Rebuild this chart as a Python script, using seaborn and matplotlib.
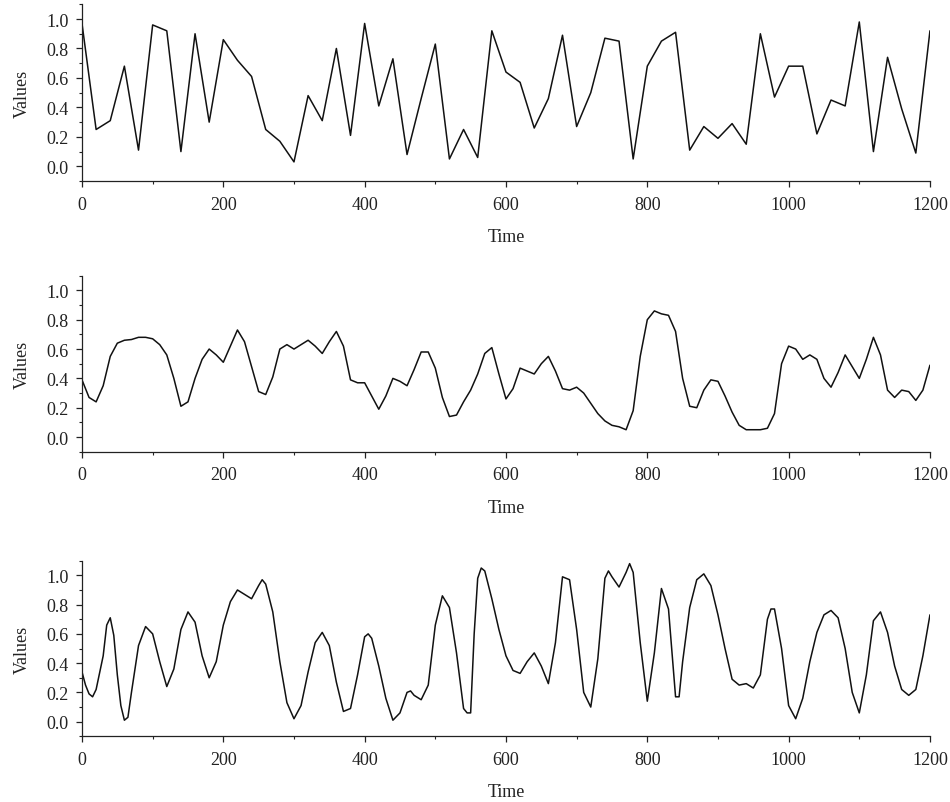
import numpy as np
import pandas as pd
import seaborn as sns
import matplotlib.pyplot as plt
from matplotlib.ticker import MultipleLocator

# panel 1: raw series, one sample every 20 time units
t_raw = list(range(0, 1201, 20))
v_raw = [0.97, 0.25, 0.31, 0.68, 0.11, 0.96, 0.92, 0.10, 0.90, 0.30,
         0.86, 0.72, 0.61, 0.25, 0.17, 0.03, 0.48, 0.31, 0.80, 0.21,
         0.97, 0.41, 0.73, 0.08, 0.46, 0.83, 0.05, 0.25, 0.06, 0.92,
         0.64, 0.57, 0.26, 0.46, 0.89, 0.27, 0.50, 0.87, 0.85, 0.05,
         0.68, 0.85, 0.91, 0.11, 0.27, 0.19, 0.29, 0.15, 0.90, 0.47,
         0.68, 0.68, 0.22, 0.45, 0.41, 0.98, 0.10, 0.74, 0.39, 0.09,
         0.92]

# panel 2: smoothed series, read every 10 time units
t_smooth = list(range(0, 1201, 10))
v_smooth = [0.39, 0.27, 0.24, 0.35, 0.55, 0.64, 0.66, 0.665, 0.68, 0.68,
            0.67, 0.63, 0.56, 0.40, 0.21, 0.24, 0.40, 0.53, 0.60, 0.56,
            0.51, 0.62, 0.73, 0.65, 0.48, 0.31, 0.29, 0.41, 0.60, 0.63,
            0.60, 0.63, 0.66, 0.62, 0.57, 0.65, 0.72, 0.62, 0.39, 0.37,
            0.37, 0.28, 0.19, 0.28, 0.40, 0.38, 0.35, 0.46, 0.58, 0.58,
            0.47, 0.27, 0.14, 0.15, 0.24, 0.32, 0.43, 0.57, 0.61, 0.43,
            0.26, 0.33, 0.47, 0.45, 0.43, 0.50, 0.55, 0.45, 0.33, 0.32,
            0.34, 0.30, 0.23, 0.16, 0.11, 0.08, 0.07, 0.05, 0.18, 0.55,
            0.80, 0.86, 0.84, 0.83, 0.72, 0.40, 0.21, 0.20, 0.32, 0.39,
            0.38, 0.28, 0.17, 0.08, 0.05, 0.05, 0.05, 0.06, 0.16, 0.50,
            0.62, 0.60, 0.53, 0.56, 0.53, 0.40, 0.34, 0.44, 0.56, 0.48,
            0.40, 0.53, 0.68, 0.56, 0.32, 0.27, 0.32, 0.31, 0.25, 0.32,
            0.49]

# panel 3: oscillating series
t_osc = [0, 5, 10, 15, 20, 30, 35, 40, 45, 50, 55, 60, 65, 70, 80, 90, 100,
         110, 120, 130, 140, 150, 160, 170, 180, 190, 200, 210, 220, 230,
         240, 250, 255, 260, 270, 280, 290, 300, 310, 320, 330, 340, 350,
         360, 370, 380, 390, 400, 405, 410, 420, 430, 440, 450, 460, 465,
         470, 480, 490, 500, 510, 520, 530, 540, 545, 550, 555, 560, 565,
         570, 580, 590, 600, 610, 620, 630, 640, 650, 660, 670, 680, 690,
         700, 710, 720, 730, 740, 745, 750, 760, 770, 775, 780, 790, 800,
         810, 820, 830, 840, 845, 850, 860, 870, 880, 890, 900, 910, 920,
         930, 940, 950, 960, 970, 975, 980, 990, 1000, 1010, 1020, 1030,
         1040, 1050, 1060, 1070, 1080, 1090, 1100, 1110, 1120, 1130, 1140,
         1150, 1160, 1170, 1180, 1190, 1200]
v_osc = [0.34, 0.25, 0.19, 0.17, 0.22, 0.45, 0.66, 0.71, 0.59, 0.32, 0.11,
         0.01, 0.03, 0.20, 0.52, 0.65, 0.60, 0.41, 0.24, 0.36, 0.63, 0.75,
         0.68, 0.45, 0.30, 0.41, 0.66, 0.82, 0.90, 0.87, 0.84, 0.93, 0.97,
         0.94, 0.75, 0.41, 0.13, 0.02, 0.11, 0.34, 0.54, 0.61, 0.52, 0.27,
         0.07, 0.09, 0.32, 0.58, 0.60, 0.57, 0.38, 0.16, 0.01, 0.06, 0.20,
         0.21, 0.18, 0.15, 0.25, 0.66, 0.86, 0.78, 0.47, 0.09, 0.06, 0.06,
         0.60, 0.98, 1.05, 1.03, 0.84, 0.63, 0.45, 0.35, 0.33, 0.41, 0.47,
         0.38, 0.26, 0.54, 0.99, 0.97, 0.63, 0.20, 0.10, 0.43, 0.98, 1.03,
         0.99, 0.92, 1.02, 1.08, 1.02, 0.54, 0.14, 0.47, 0.91, 0.77, 0.17,
         0.17, 0.41, 0.78, 0.97, 1.01, 0.93, 0.73, 0.50, 0.29, 0.25, 0.26,
         0.23, 0.32, 0.70, 0.77, 0.77, 0.50, 0.11, 0.02, 0.16, 0.41, 0.61,
         0.73, 0.76, 0.71, 0.50, 0.20, 0.06, 0.32, 0.69, 0.75, 0.61, 0.38,
         0.22, 0.18, 0.22, 0.45, 0.73]

y_ticks = [0.0, 0.2, 0.4, 0.6, 0.8, 1.0]
x_ticks = [0, 200, 400, 600, 800, 1000, 1200]

sns.set_style("ticks")
plt.rcParams['font.family'] = ['Liberation Serif', 'DejaVu Serif']
plt.rcParams['font.size'] = 13

fig = plt.figure(figsize=(9.5, 8.03), dpi=100)
boxes = [[0.0863, 0.7733, 0.8926, 0.2201],
         [0.0863, 0.4362, 0.8926, 0.2192],
         [0.0863, 0.0818, 0.8926, 0.2187]]
series = [(t_raw, v_raw), (t_smooth, v_smooth), (t_osc, v_osc)]

for box, (tt, vv) in zip(boxes, series):
    ax = fig.add_axes(box)
    df = pd.DataFrame({"Time": tt, "Values": vv})
    sns.lineplot(data=df, x="Time", y="Values", ax=ax, color="#111111",
                 linewidth=1.1, errorbar=None)
    ax.set_xlim(0, 1200)
    ax.set_ylim(-0.1, 1.1)
    ax.set_xticks(x_ticks)
    ax.set_yticks(y_ticks)
    ax.set_yticklabels([f"{v:.1f}" for v in y_ticks])
    ax.xaxis.set_minor_locator(MultipleLocator(100))
    ax.yaxis.set_minor_locator(MultipleLocator(0.1))
    ax.tick_params(which="major", length=4.5, width=0.9, labelsize=13,
                   color="#222222", labelcolor="#222222")
    ax.tick_params(axis="x", which="major", pad=6)
    ax.tick_params(axis="y", which="major", pad=5)
    ax.tick_params(which="minor", length=2.5, width=0.8, color="#222222")
    ax.set_xlabel("Time", fontsize=13, color="#222222", labelpad=11)
    ax.set_ylabel("Values", fontsize=13, color="#222222", labelpad=11)
    for s in ["top", "right"]:
        ax.spines[s].set_visible(False)
    for s in ["left", "bottom"]:
        ax.spines[s].set_linewidth(0.9)
        ax.spines[s].set_color("#222222")

fig.savefig("out.png", dpi=100)
